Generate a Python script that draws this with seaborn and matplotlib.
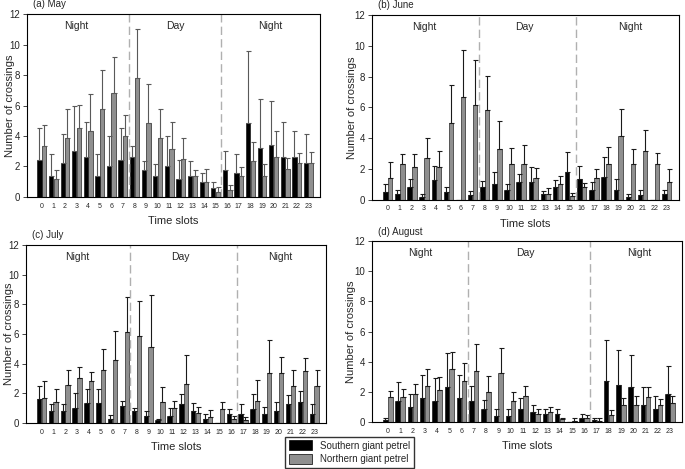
import numpy as np
import pandas as pd
import matplotlib
matplotlib.use("Agg")
import matplotlib.pyplot as plt
from matplotlib.patches import Patch
import seaborn as sns

# time slots 0-23
slots = list(range(24))
species = ["Southern giant petrel", "Northern giant petrel"]

# means and upper error-bar ends
may_sgp = [2.4, 1.4, 2.2, 3.0, 2.6, 1.4, 2.0, 2.4, 2.6, 1.8, 1.4, 2.0, 1.2, 1.4, 1.0, 0.6, 1.8, 1.6, 4.85, 3.2, 3.4, 2.6, 2.6, 2.2]
may_sgp_hi = [4.55, 2.8, 4.15, 6.0, 4.95, 2.8, 4.0, 4.55, 3.35, 2.35, 2.15, 4.0, 2.4, 2.35, 1.6, 1.0, 3.0, 2.8, 9.6, 6.4, 6.3, 4.95, 4.35, 4.15]
may_ngp = [3.35, 1.2, 3.85, 4.5, 4.35, 5.8, 6.8, 4.0, 7.8, 4.85, 3.85, 3.15, 2.5, 1.35, 1.0, 0.35, 0.45, 1.35, 2.35, 1.35, 2.65, 1.85, 2.2, 2.2]
may_ngp_hi = [4.75, 1.8, 5.8, 6.05, 6.75, 8.3, 9.2, 5.35, 11.05, 7.4, 5.8, 4.95, 3.9, 1.8, 1.85, 0.65, 0.8, 1.95, 3.6, 2.15, 4.35, 2.55, 2.9, 2.95]

jun_sgp = [0.5, 0.35, 0.8, 0.2, 1.3, 0.5, 0.0, 0.3, 0.8, 1.0, 0.65, 1.15, 1.15, 0.35, 0.8, 1.8, 1.35, 0.65, 1.5, 0.65, 0.15, 0.3, 0.0, 0.35]
jun_sgp_hi = [1.0, 0.65, 1.35, 0.35, 2.2, 0.8, 0.0, 0.55, 1.2, 1.8, 1.0, 1.65, 2.15, 0.55, 1.3, 3.1, 2.2, 1.15, 2.8, 1.35, 0.35, 0.65, 0.0, 0.65]
jun_ngp = [1.4, 2.3, 2.15, 2.7, 2.15, 5.0, 6.7, 6.15, 5.85, 3.3, 2.3, 2.3, 1.4, 0.4, 1.0, 0.25, 0.85, 1.4, 2.3, 4.15, 2.3, 3.15, 2.3, 1.15]
jun_ngp_hi = [2.45, 2.95, 3.0, 4.0, 3.15, 7.45, 9.7, 9.1, 8.05, 5.1, 3.35, 3.55, 2.05, 0.75, 1.55, 0.45, 1.1, 2.0, 3.4, 5.9, 3.3, 4.55, 3.05, 2.0]

jul_sgp = [1.65, 0.8, 0.8, 1.0, 1.35, 1.35, 0.3, 1.12, 0.8, 0.47, 0.18, 0.47, 1.3, 0.8, 0.3, 0.0, 0.6, 0.63, 0.96, 0.63, 0.78, 1.28, 1.43, 0.63]
jul_sgp_hi = [2.5, 1.3, 1.3, 2.0, 2.3, 2.3, 0.55, 1.5, 1.0, 0.8, 0.3, 1.0, 1.97, 1.35, 0.6, 0.0, 0.95, 1.28, 1.95, 1.1, 1.4, 1.86, 2.13, 1.28]
jul_ngp = [1.7, 1.45, 2.55, 3.0, 2.85, 3.55, 4.25, 6.1, 5.85, 5.15, 1.4, 1.0, 2.65, 0.7, 0.4, 0.95, 0.25, 0.22, 1.5, 3.34, 3.34, 2.5, 3.5, 2.5]
jul_ngp_hi = [2.8, 2.3, 3.6, 3.8, 3.45, 5.0, 6.2, 8.5, 8.2, 8.6, 2.4, 1.5, 4.55, 1.1, 0.9, 1.45, 0.45, 0.38, 2.9, 5.6, 4.44, 3.56, 4.37, 3.56]

aug_sgp = [0.15, 1.43, 1.0, 1.6, 1.43, 2.3, 1.6, 1.43, 0.86, 0.41, 0.43, 0.86, 0.7, 0.57, 0.57, 0.0, 0.3, 0.11, 2.7, 2.43, 2.3, 1.14, 0.86, 1.89]
aug_sgp_hi = [0.3, 2.68, 1.85, 3.15, 2.9, 4.55, 3.15, 2.36, 1.45, 0.86, 0.86, 1.57, 1.16, 0.86, 0.86, 0.0, 0.55, 0.27, 5.43, 4.75, 4.43, 2.3, 1.73, 3.7]
aug_ngp = [1.65, 1.65, 1.88, 2.36, 2.14, 3.5, 2.73, 3.36, 2.0, 3.27, 1.39, 1.73, 0.52, 0.66, 0.18, 0.07, 0.25, 0.09, 0.5, 1.14, 1.14, 1.64, 1.14, 1.25]
aug_ngp_hi = [2.05, 2.2, 2.55, 3.5, 3.0, 4.65, 3.95, 5.2, 3.07, 4.93, 1.98, 2.36, 0.86, 1.02, 0.27, 0.25, 0.45, 0.25, 0.77, 1.61, 1.73, 2.3, 1.52, 1.73]

titles = ["(a) May", "(b) June", "(c) July", "(d) August"]
# day/night boundaries and period label positions (in slot units)
borders = [[7.5, 15.5], [7.5, 15.5], [7.5, 16.5], [6.5, 16.5]]
period_x = [[3.0, 11.5, 19.7], [3.0, 11.3, 20.0], [3.0, 11.75, 20.1], [2.6, 11.2, 20.5]]
period_names = ["Night", "Day", "Night"]

months = [
    (may_sgp, may_sgp_hi, may_ngp, may_ngp_hi),
    (jun_sgp, jun_sgp_hi, jun_ngp, jun_ngp_hi),
    (jul_sgp, jul_sgp_hi, jul_ngp, jul_ngp_hi),
    (aug_sgp, aug_sgp_hi, aug_ngp, aug_ngp_hi),
]

sns.set_style("ticks")
plt.rcParams["font.family"] = ["Liberation Sans", "DejaVu Sans"]

colors = ["black", "#8f8f8f"]
fig = plt.figure(figsize=(6.85, 4.69), dpi=100)
boxes = [
    [0.039, 0.580, 0.428, 0.390],
    [0.543, 0.574, 0.448, 0.394],
    [0.038, 0.098, 0.438, 0.380],
    [0.543, 0.100, 0.453, 0.386],
]
ylabel_x = [-0.040, -0.050, -0.040, -0.050]

for i, (sg, sg_hi, ng, ng_hi) in enumerate(months):
    ax = fig.add_axes(boxes[i])
    df = pd.DataFrame({
        "slot": slots * 2,
        "value": sg + ng,
        "species": [species[0]] * 24 + [species[1]] * 24,
    })
    sns.barplot(data=df, x="slot", y="value", hue="species", hue_order=species,
                palette=colors, errorbar=None, width=0.8, gap=0.08,
                edgecolor="black", linewidth=0.4, legend=False, ax=ax)

    # one-sided error bars on top of each bar
    bars = ax.patches
    his = sg_hi + ng_hi
    means = sg + ng
    xs = [b.get_x() + b.get_width() / 2 for b in bars]
    up = np.array(his) - np.array(means)
    ecol = "0.35" if i == 0 else "0.1"
    ax.errorbar(xs, means, yerr=[np.zeros(len(up)), up], fmt="none",
                ecolor=ecol, elinewidth=0.8, capsize=1.8, capthick=0.8)

    for b in borders[i]:
        ax.axvline(b, color="#b0b0b0", linestyle=(0, (6, 3)), linewidth=1.0)
    for px, name in zip(period_x[i], period_names):
        ax.text(px, 11.2, name, ha="center", va="center", fontsize=7.5)

    ax.set_xlim(-1.3, 24.0)
    ax.set_ylim(0, 12)
    ax.set_yticks([0, 2, 4, 6, 8, 10, 12])
    ax.tick_params(axis="y", labelsize=7, length=3, width=0.6, pad=2)
    ax.tick_params(axis="x", labelsize=5, length=0, pad=4)
    for s in ax.spines.values():
        s.set_linewidth(0.8)
        s.set_color("black")
    ax.set_xlabel("Time slots", fontsize=8)
    ax.set_ylabel("Number of crossings", fontsize=8)
    ax.xaxis.set_label_coords(0.5, -0.105)
    ax.yaxis.set_label_coords(ylabel_x[i], 0.5)
    ax.text(0.02, 1.025, titles[i], transform=ax.transAxes, ha="left",
            va="bottom", fontsize=7)

handles = [Patch(facecolor=c, edgecolor="black", linewidth=0.5) for c in colors]
fig.legend(handles, species, loc="center", bbox_to_anchor=(0.51, 0.036),
           frameon=True, fancybox=False, edgecolor="black", fontsize=7,
           handlelength=2.4, handleheight=1.2, borderpad=0.4, labelspacing=0.3,
           handletextpad=0.8)

fig.savefig("out.png", dpi=100)
